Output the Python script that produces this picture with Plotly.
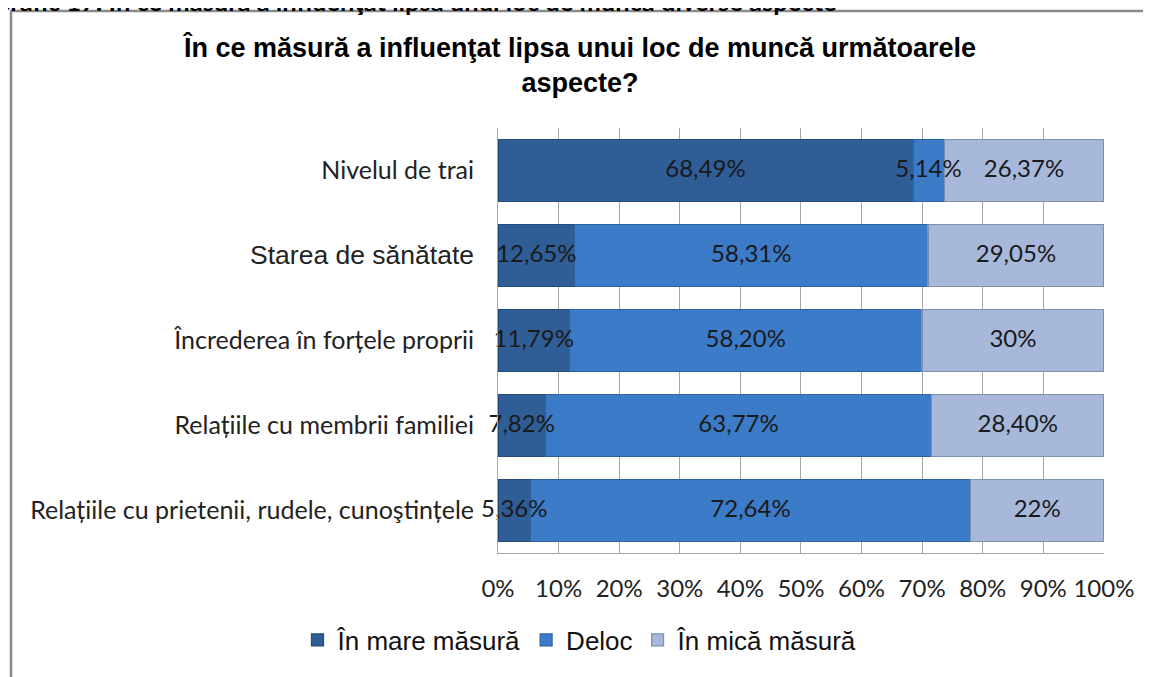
import plotly.graph_objects as go

categories = [
    "Nivelul de trai",
    "Starea de sănătate",
    "Încrederea în forțele proprii",
    "Relațiile cu membrii familiei",
    "Relațiile cu prietenii, rudele, cunoştințele",
]
mare = [68.49, 12.65, 11.79, 7.82, 5.36]
deloc = [5.14, 58.31, 58.20, 63.77, 72.64]
mica = [26.37, 29.05, 30.00, 28.40, 22.00]
mare_lbl = ["68,49%", "12,65%", "11,79%", "7,82%", "5,36%"]
deloc_lbl = ["5,14%", "58,31%", "58,20%", "63,77%", "72,64%"]
mica_lbl = ["26,37%", "29,05%", "30%", "28,40%", "22%"]
series_names = ["În mare măsură", "Deloc", "În mică măsură"]
x_ticks = [0, 10, 20, 30, 40, 50, 60, 70, 80, 90, 100]
x_tick_text = [f"{v}%" for v in x_ticks]

tick_text = [
    c if c != "Starea de sănătate"
    else '<span style="font-family:Liberation Sans;font-size:26.5px">Starea de sănătate</span>'
    for c in categories
]

W, H = 1151, 677
OFF = 8  # page body margin
# target plot area in page pixels: x 498..1104, y 128..553
ml = 498 - OFF
mr = W - (1104 - OFF)
mt = 128 - OFF
mb = H - (553 - OFF)
pw = W - ml - mr
ph = H - mt - mb


def px2x(p):
    return (p - OFF - ml) / pw


def py2y(p):
    return (H - mb - (p - OFF)) / ph


calib = "Lato, Carlito, sans-serif"
label_font = dict(family=calib, size=24, color="#1a1a1a")

fig = go.Figure()
colors = ["#2F5D96", "#3C7BC8", "#A7B8DB"]
edges = ["#234a7a", "#2d629f", "#7f8fae"]
all_vals = [mare, deloc, mica]
for name, vals, col, ed in zip(series_names, all_vals, colors, edges):
    fig.add_trace(go.Bar(
        y=categories, x=vals, name=name, orientation="h",
        marker=dict(color=col, line=dict(color=ed, width=1.2)),
        hoverinfo="x+name",
    ))

# data labels on top of all bars, centred in each segment
lab_x, lab_y, lab_t = [], [], []
for i, cat in enumerate(categories):
    start = 0.0
    for vals, lbls in zip(all_vals, [mare_lbl, deloc_lbl, mica_lbl]):
        lab_x.append(start + vals[i] / 2)
        lab_y.append(cat)
        lab_t.append(lbls[i])
        start += vals[i]
fig.add_trace(go.Scatter(
    x=lab_x, y=lab_y, text=lab_t, mode="text", textposition="middle center",
    textfont=label_font, showlegend=False, hoverinfo="skip", cliponaxis=False,
))

fig.update_layout(
    width=W, height=H,
    barmode="stack", bargap=0.27,
    margin=dict(l=ml, r=mr, t=mt, b=mb),
    plot_bgcolor="white", paper_bgcolor="white",
    showlegend=True,
    legend=dict(orientation="h", x=px2x(580), xanchor="center", y=py2y(640), yanchor="middle",
                font=dict(family="Liberation Sans Narrow, Liberation Sans, sans-serif", size=26, color="#111"),
                traceorder="normal", itemwidth=30, bgcolor="rgba(0,0,0,0)"),
    xaxis=dict(range=[0, 100.02], tickvals=x_ticks, ticktext=x_tick_text,
               showgrid=True, gridcolor="#A6A6A6", gridwidth=1,
               showline=True, linecolor="#A6A6A6", linewidth=1,
               zeroline=False, ticks="", ticklen=0, ticklabelstandoff=14,
               tickfont=dict(family=calib, size=24, color="#222")),
    yaxis=dict(categoryorder="array", categoryarray=categories, autorange="reversed",
               tickvals=categories, ticktext=tick_text,
               showline=True, linecolor="#A6A6A6", linewidth=1,
               showgrid=False, ticks="", ticklabelstandoff=18,
               tickfont=dict(family=calib, size=25, color="#222")),
    title=dict(text="În ce măsură a influenţat lipsa unui loc de muncă următoarele<br>aspecte?",
               x=(580 - OFF) / W, xanchor="center", y=1 - (57 - OFF) / H, yanchor="middle",
               font=dict(family="Liberation Sans, Arial, sans-serif", size=27, color="#000",
                         weight="bold")),
    shapes=[dict(type="rect", xref="paper", yref="paper",
                 x0=px2x(11), x1=px2x(1175), y0=py2y(11), y1=py2y(720),
                 line=dict(color="#8A8A8A", width=2.5), fillcolor="rgba(0,0,0,0)", layer="below")],
    annotations=[dict(text="<b>Grafic 17: În ce măsură a influenţat lipsa unui loc de muncă diverse aspecte</b>",
                      xref="paper", yref="paper", x=px2x(-10), xanchor="left",
                      y=py2y(1), yanchor="middle", showarrow=False,
                      font=dict(family=calib, size=25.5, color="#000"))],
)

fig.write_html("out.html")
